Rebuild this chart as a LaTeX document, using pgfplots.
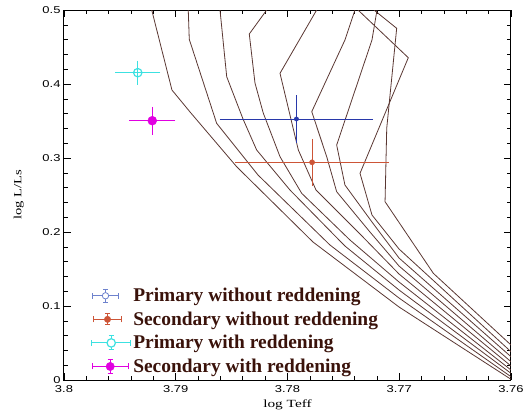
\documentclass[border=0pt]{standalone}
\usepackage{fontspec}
\setmainfont{Liberation Serif}
\newfontfamily\ticksf{Liberation Sans}
\usepackage{graphicx}
\usepackage{pgfplots}
\pgfplotsset{compat=1.18}
\definecolor{trk}{RGB}{90,55,50}
\definecolor{pblue}{RGB}{40,56,170}
\definecolor{pbluel}{RGB}{110,130,205}
\definecolor{sred}{RGB}{205,85,55}
\definecolor{pcyan}{RGB}{60,225,225}
\definecolor{smag}{RGB}{225,0,225}
\definecolor{legtxt}{RGB}{58,18,10}
\newcommand{\tl}[1]{\scalebox{1.3}[1]{#1}}
\begin{document}
\begin{tikzpicture}
\begin{axis}[
  scale only axis, width=447bp, height=370bp,
  x dir=reverse, xmin=3.76, xmax=3.8, ymin=0, ymax=0.5,
  xtick={3.76,3.77,3.78,3.79,3.8}, xticklabels={\tl{3.76},\tl{3.77},\tl{3.78},\tl{3.79},\tl{3.8}},
  ytick={0,0.1,0.2,0.3,0.4,0.5}, yticklabels={\tl{0},\tl{0.1},\tl{0.2},\tl{0.3},\tl{0.4},\tl{0.5}},
  minor x tick num=4, minor y tick num=4,
  tick align=inside, major tick length=7bp, minor tick length=4bp,
  tick style={black, line width=0.6bp},
  axis line style={line width=1bp},
  tick label style={font=\ticksf\fontsize{10}{12}\selectfont},
  xticklabel style={yshift=-2bp},
  xlabel={\scalebox{1.4}[1]{log Teff}}, ylabel={\scalebox{1.33}[1]{log L/Ls}},
  label style={font=\fontsize{11}{13}\selectfont},
  ylabel style={yshift=12bp},
  legend style={at={(0.054,0.005)}, anchor=south west, draw=none, fill=none,
    font=\bfseries\fontsize{19.5}{23}\selectfont, text=legtxt, row sep=4.6bp},
  legend cell align=left,
]
% tracks
\addplot[trk, line width=0.8bp, forget plot] coordinates {(3.79215,0.5) (3.79034,0.39189) (3.78872,0.36216) (3.78455,0.28824) (3.77772,0.18649) (3.77002,0.09865) (3.76,0.00095)};
\addplot[trk, line width=0.8bp, forget plot] coordinates {(3.78888,0.5) (3.78879,0.46041) (3.78634,0.34689) (3.78264,0.27703) (3.77620,0.18243) (3.77002,0.11081) (3.76,0.00446)};
\addplot[trk, line width=0.8bp, forget plot] coordinates {(3.78604,0.5) (3.78544,0.40986) (3.78398,0.35270) (3.78276,0.31081) (3.77978,0.25676) (3.77486,0.18108) (3.77002,0.12162) (3.76,0.00905)};
\addplot[trk, line width=0.8bp, forget plot] coordinates {(3.78186,0.5) (3.78342,0.46757) (3.78291,0.40135) (3.78217,0.36081) (3.78067,0.30176) (3.77873,0.25230) (3.77441,0.18919) (3.77002,0.13243) (3.76,0.01351)};
\addplot[trk, line width=0.8bp, forget plot] coordinates {(3.77739,0.5) (3.78067,0.41446) (3.77903,0.31081) (3.77745,0.25676) (3.77351,0.19730) (3.77002,0.14324) (3.76,0.01892)};
\addplot[trk, line width=0.8bp, forget plot] coordinates {(3.77396,0.5) (3.77486,0.45946) (3.77783,0.36257) (3.77649,0.30176) (3.77560,0.25446) (3.77262,0.2) (3.77002,0.15405) (3.76,0.02473)};
\addplot[trk, line width=0.8bp, forget plot] coordinates {(3.77199,0.5) (3.77244,0.45946) (3.77560,0.31757) (3.77486,0.26351) (3.77244,0.21351) (3.77002,0.16486) (3.76,0.03149)};
\addplot[trk, line width=0.8bp, forget plot] coordinates {(3.77369,0.5) (3.76919,0.43554) (3.77351,0.27932) (3.77244,0.22297) (3.77002,0.17703) (3.76,0.03824)};
\addplot[trk, line width=0.8bp, forget plot] coordinates {(3.77226,0.5) (3.77023,0.47527) (3.77112,0.34014) (3.77127,0.24095) (3.76695,0.14419) (3.76,0.04730)};
% data points
\addplot[pblue, only marks, mark=*, mark size=2.2bp, forget plot,
  error bars/.cd, x dir=both, x explicit, y dir=both, y explicit,
  error bar style={line width=0.8bp, pblue}, error mark options={pblue, mark size=3bp, line width=0.8bp}]
  coordinates {(3.7792,0.3527) +- (0.0066,0.028)};
\addplot[sred, only marks, mark=*, mark size=2.6bp, forget plot,
  error bars/.cd, x dir=both, x explicit, y dir=both, y explicit,
  error bar style={line width=0.8bp, sred}, error mark options={sred, mark size=3bp, line width=0.8bp}]
  coordinates {(3.7778,0.2942) +- (0.0066,0.0277)};
\addplot[pcyan, only marks, mark=o, mark size=4.2bp, mark options={line width=1.2bp}, forget plot,
  error bars/.cd, x dir=both, x explicit, y dir=both, y explicit,
  error bar style={line width=1bp, pcyan}, error mark options={pcyan, mark size=3bp, line width=1bp}]
  coordinates {(3.7934,0.4153) +- (0.00176,0.0124)};
\addplot[smag, only marks, mark=*, mark size=4.5bp, forget plot,
  error bars/.cd, x dir=both, x explicit, y dir=both, y explicit,
  error bar style={line width=1bp, smag}, error mark options={smag, mark size=3bp, line width=1bp}]
  coordinates {(3.7921,0.3504) +- (0.0018,0.0147)};
% legend
\addlegendimage{legend image code/.code={
    \draw[pbluel, line width=0.8bp] (canvas cs:x=-4.2bp,y=0bp) -- (canvas cs:x=21.5bp,y=0bp);
    \draw[pbluel, line width=0.8bp] (canvas cs:x=-4.2bp,y=-3bp) -- (canvas cs:x=-4.2bp,y=3bp);
    \draw[pbluel, line width=0.8bp] (canvas cs:x=21.5bp,y=-3bp) -- (canvas cs:x=21.5bp,y=3bp);
    \draw[pbluel, line width=0.8bp] (canvas cs:x=8.5bp,y=-6.3bp) -- (canvas cs:x=8.5bp,y=6.3bp);
    \draw[pbluel, line width=0.8bp] (canvas cs:x=6bp,y=-6.3bp) -- (canvas cs:x=11bp,y=-6.3bp);
    \draw[pbluel, line width=0.8bp] (canvas cs:x=6bp,y=6.3bp) -- (canvas cs:x=11bp,y=6.3bp);
    \draw[pbluel, line width=0.8bp, fill=white] (canvas cs:x=8.5bp,y=0bp) circle (3.2bp);
    \path[draw=none, fill=none] (canvas cs:x=0bp,y=0bp) -- (canvas cs:x=31bp,y=0bp);
  }}
\addlegendentry{Primary without reddening}
\addlegendimage{legend image code/.code={
    \draw[sred, line width=0.8bp] (canvas cs:x=-3.5bp,y=0bp) -- (canvas cs:x=24.8bp,y=0bp);
    \draw[sred, line width=0.8bp] (canvas cs:x=-3.5bp,y=-3bp) -- (canvas cs:x=-3.5bp,y=3bp);
    \draw[sred, line width=0.8bp] (canvas cs:x=24.8bp,y=-3bp) -- (canvas cs:x=24.8bp,y=3bp);
    \draw[sred, line width=0.8bp] (canvas cs:x=10.5bp,y=-5.5bp) -- (canvas cs:x=10.5bp,y=5.5bp);
    \draw[sred, line width=0.8bp] (canvas cs:x=8bp,y=-5.5bp) -- (canvas cs:x=13bp,y=-5.5bp);
    \draw[sred, line width=0.8bp] (canvas cs:x=8bp,y=5.5bp) -- (canvas cs:x=13bp,y=5.5bp);
    \fill[sred] (canvas cs:x=10.5bp,y=0bp) circle (3.2bp);
    \path[draw=none, fill=none] (canvas cs:x=0bp,y=0bp) -- (canvas cs:x=31bp,y=0bp);
  }}
\addlegendentry{Secondary without reddening}
\addlegendimage{legend image code/.code={
    \draw[pcyan, line width=1bp] (canvas cs:x=-5.2bp,y=0bp) -- (canvas cs:x=33.8bp,y=0bp);
    \draw[pcyan, line width=1bp] (canvas cs:x=-5.2bp,y=-3bp) -- (canvas cs:x=-5.2bp,y=3bp);
    \draw[pcyan, line width=1bp] (canvas cs:x=33.8bp,y=-3bp) -- (canvas cs:x=33.8bp,y=3bp);
    \draw[pcyan, line width=1bp] (canvas cs:x=14.2bp,y=-7bp) -- (canvas cs:x=14.2bp,y=7bp);
    \draw[pcyan, line width=1bp] (canvas cs:x=11.5bp,y=-7bp) -- (canvas cs:x=17bp,y=-7bp);
    \draw[pcyan, line width=1bp] (canvas cs:x=11.5bp,y=7bp) -- (canvas cs:x=17bp,y=7bp);
    \draw[pcyan, line width=1.2bp, fill=white] (canvas cs:x=14.2bp,y=0bp) circle (4.2bp);
    \path[draw=none, fill=none] (canvas cs:x=0bp,y=0bp) -- (canvas cs:x=31bp,y=0bp);
  }}
\addlegendentry{Primary with reddening}
\addlegendimage{legend image code/.code={
    \draw[smag, line width=1bp] (canvas cs:x=-4.2bp,y=0bp) -- (canvas cs:x=31.5bp,y=0bp);
    \draw[smag, line width=1bp] (canvas cs:x=-4.2bp,y=-3bp) -- (canvas cs:x=-4.2bp,y=3bp);
    \draw[smag, line width=1bp] (canvas cs:x=31.5bp,y=-3bp) -- (canvas cs:x=31.5bp,y=3bp);
    \draw[smag, line width=1bp] (canvas cs:x=13.2bp,y=-7bp) -- (canvas cs:x=13.2bp,y=7bp);
    \draw[smag, line width=1bp] (canvas cs:x=10.5bp,y=-7bp) -- (canvas cs:x=16bp,y=-7bp);
    \draw[smag, line width=1bp] (canvas cs:x=10.5bp,y=7bp) -- (canvas cs:x=16bp,y=7bp);
    \fill[smag] (canvas cs:x=13.2bp,y=0bp) circle (4.2bp);
    \path[draw=none, fill=none] (canvas cs:x=0bp,y=0bp) -- (canvas cs:x=31bp,y=0bp);
  }}
\addlegendentry{Secondary with reddening}
\end{axis}
\pgfresetboundingbox
\path ([shift={(-64bp,-39bp)}]current axis.south west) rectangle ([shift={(18bp,10bp)}]current axis.north east);
\end{tikzpicture}
\end{document}
